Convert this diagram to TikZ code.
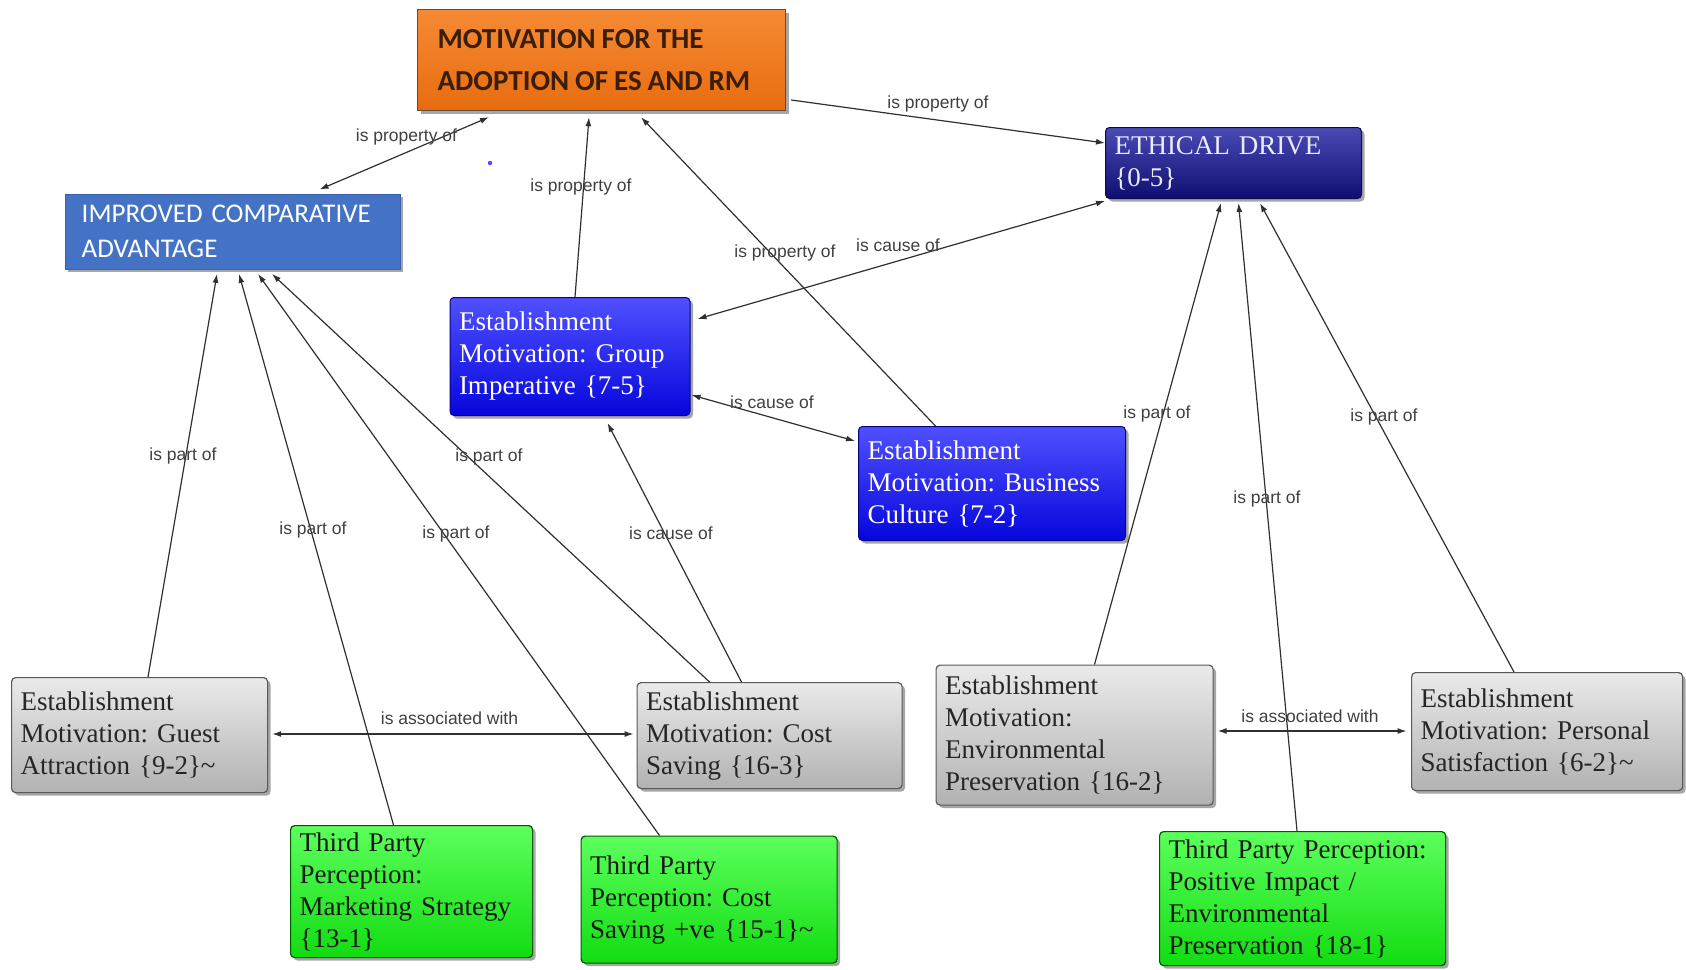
\documentclass[tikz,border=0pt]{standalone}
\usepackage{fontspec}
\setmainfont{Liberation Serif}
\newfontfamily\labelfont{Liberation Sans}
\newfontfamily\headfont{Carlito}
\usetikzlibrary{arrows.meta,shadows}
\frenchspacing
% narrow word gap used in the heading box
\newcommand\hgap{\kern6pt}

\definecolor{linegray}{HTML}{303030}
\definecolor{orangetop}{HTML}{F58A34}
\definecolor{orangebot}{HTML}{E86C10}
\definecolor{headtext}{HTML}{3A1E08}
\definecolor{icablue}{HTML}{4472C4}
\definecolor{navytop}{HTML}{4A4AB4}
\definecolor{navybot}{HTML}{0E0E72}
\definecolor{bluetop}{HTML}{5050FF}
\definecolor{bluebot}{HTML}{0606DC}
\definecolor{graytop}{HTML}{EAEAEA}
\definecolor{graybot}{HTML}{B2B2B2}
\definecolor{greentop}{HTML}{5CFF5C}
\definecolor{greenbot}{HTML}{12DC12}

\begin{document}
\begin{tikzpicture}[x=1pt,y=-1pt,
  base/.style={rectangle, anchor=north west, align=left, inner ysep=0pt,
    drop shadow={shadow xshift=3pt, shadow yshift=-3pt, fill=black, opacity=0.35}},
  serifbox/.style={base, rounded corners=4pt, inner xsep=9pt,
    font=\fontsize{27}{32}\selectfont},
  headbox/.style={base, top color=orangetop, bottom color=orangebot, draw=headtext!80,
    line width=1.2pt, inner xsep=20pt, text=headtext,
    font=\headfont\bfseries\fontsize{29}{42}\selectfont},
  icabox/.style={base, fill=icablue, draw=icablue!85!black, inner xsep=17pt, text=white,
    font=\headfont\fontsize{27}{35}\selectfont},
  navybox/.style={serifbox, top color=navytop, bottom color=navybot, draw=navybot!70!black,
    line width=1pt, text=blue!8!white},
  bluebox/.style={serifbox, top color=bluetop, bottom color=bluebot, draw=bluebot!60!black,
    line width=1pt, text=white},
  graybox/.style={serifbox, top color=graytop, bottom color=graybot, draw=black!65,
    line width=1.2pt, text=black!85},
  greenbox/.style={serifbox, top color=greentop, bottom color=greenbot, draw=green!35!black,
    line width=1.2pt, text=black!90},
  lbl/.style={font=\labelfont\fontsize{17.5}{20}\selectfont, text=black!75, inner sep=0pt},
  arr/.style={draw=linegray, line width=1.2pt, -{Latex[length=9pt,width=6pt]}},
  biarr/.style={draw=linegray, line width=1.2pt, {Latex[length=9pt,width=6pt]}-{Latex[length=9pt,width=6pt]}}
]
\useasboundingbox (0,0) rectangle (1686,969);
\fill[white] (0,0) rectangle (1686,969);

% concepts
\node[headbox, minimum width=368pt, minimum height=101pt, text width=328pt] (orange) at (417,9)
  {MOTIVATION\hgap FOR\hgap THE\\ADOPTION\hgap OF\hgap ES\hgap AND\hgap RM};
\node[icabox, minimum width=335pt, minimum height=75pt, text width=301pt] (ica) at (64.5,193.5)
  {IMPROVED COMPARATIVE\\ADVANTAGE};
\node[navybox, minimum width=256pt, minimum height=71pt, text width=238pt] (ed) at (1105,127)
  {ETHICAL DRIVE\\\{0-5\}};
\node[bluebox, minimum width=240pt, minimum height=118pt, text width=222pt] (gi) at (449.5,297)
  {Establishment\\Motivation: Group\\Imperative \{7-5\}};
\node[bluebox, minimum width=267pt, minimum height=114pt, text width=249pt] (bc) at (858,426)
  {Establishment\\Motivation: Business\\Culture \{7-2\}};
\node[graybox, minimum width=256pt, minimum height=115pt, text width=238pt] (ga) at (11,677)
  {Establishment\\Motivation: Guest\\Attraction \{9-2\}\textasciitilde};
\node[graybox, minimum width=265pt, minimum height=106pt, text width=247pt] (cs) at (636.5,682)
  {Establishment\\Motivation: Cost\\Saving \{16-3\}};
\node[graybox, minimum width=277pt, minimum height=140pt, text width=259pt] (ep) at (935.5,664.5)
  {Establishment\\Motivation:\\Environmental\\Preservation \{16-2\}};
\node[graybox, minimum width=271pt, minimum height=118pt, text width=253pt] (ps) at (1411,672)
  {Establishment\\Motivation: Personal\\Satisfaction \{6-2\}\textasciitilde};
\node[greenbox, minimum width=242pt, minimum height=132pt, text width=224pt] (ms) at (290,825)
  {Third Party\\Perception:\\Marketing Strategy\\\{13-1\}};
\node[greenbox, minimum width=256pt, minimum height=127pt, text width=238pt] (csv) at (580.5,835.5)
  {Third Party\\Perception: Cost\\Saving +ve \{15-1\}\textasciitilde};
\node[greenbox, minimum width=286pt, minimum height=134pt, text width=268pt] (pi) at (1159,831)
  {Third Party Perception:\\Positive Impact /\\Environmental\\Preservation \{18-1\}};

% stray marker dot
\fill[blue!70] (490,163) circle (2.2pt);

% connectors
\draw[biarr] ([xshift=255pt,yshift=4pt]ica.north west) -- ([xshift=72pt,yshift=-6pt]orange.south west);
\draw[arr] ([xshift=5pt,yshift=-91pt]orange.north east) -- ([yshift=-16pt]ed.north west);
\draw[arr] ([xshift=125.5pt]gi.north west) -- ([xshift=172pt,yshift=-6pt]orange.south west);
\draw[arr] ([xshift=77.5pt]bc.north west) -- ([xshift=224pt,yshift=-6pt]orange.south west);
\draw[biarr] ([yshift=-2pt]ed.south west) -- ([xshift=7pt,yshift=-22pt]gi.north east);
\draw[biarr] ([xshift=1pt,yshift=-98pt]gi.north east) -- ([xshift=-3pt,yshift=-15pt]bc.north west);
\draw[arr] ([xshift=105pt]cs.north west) -- ([xshift=158pt,yshift=-7pt]gi.south west);
\draw[arr] ([xshift=137pt]ga.north west) -- ([xshift=152.5pt,yshift=-5pt]ica.south west);
\draw[arr] ([xshift=103.5pt]ms.north west) -- ([xshift=174.5pt,yshift=-5pt]ica.south west);
\draw[arr] ([xshift=79pt]csv.north west) -- ([xshift=193.5pt,yshift=-5pt]ica.south west);
\draw[arr] ([xshift=73pt]cs.north west) -- ([xshift=207.5pt,yshift=-5pt]ica.south west);
\draw[biarr] ([xshift=4pt,yshift=-57pt]ga.north east) -- ([xshift=-3pt,yshift=-52pt]cs.north west);
\draw[arr] ([xshift=159pt]ep.north west) -- ([xshift=116pt,yshift=-4pt]ed.south west);
\draw[arr] ([xshift=138pt]pi.north west) -- ([xshift=133.5pt,yshift=-4pt]ed.south west);
\draw[arr] ([xshift=103pt]ps.north west) -- ([xshift=155pt,yshift=-4pt]ed.south west);
\draw[biarr] ([xshift=4pt,yshift=-66.5pt]ep.north east) -- ([xshift=-4.5pt,yshift=-59pt]ps.north west);

% connector labels
\node[lbl] (l1) at (406.5,136.5) {is property of};
\node[lbl] (l2) at (938,104) {is property of};
\node[lbl] (l3) at (581,187) {is property of};
\node[lbl] (l4) at (785,253) {is property of};
\node[lbl] (l5) at (898,245) {is cause of};
\node[lbl] (l6) at (772,402) {is cause of};
\node[lbl] (l7) at (671,533) {is cause of};
\node[lbl] (l8) at (183,456) {is part of};
\node[lbl] (l9) at (313,530) {is part of};
\node[lbl] (l10) at (456,534) {is part of};
\node[lbl] (l11) at (489,457) {is part of};
\node[lbl] (l12) at (449.5,718) {is associated with};
\node[lbl] (l13) at (1157,414) {is part of};
\node[lbl] (l14) at (1267,499) {is part of};
\node[lbl] (l15) at (1384,417) {is part of};
\node[lbl] (l16) at (1310,716) {is associated with};
\end{tikzpicture}
\end{document}
